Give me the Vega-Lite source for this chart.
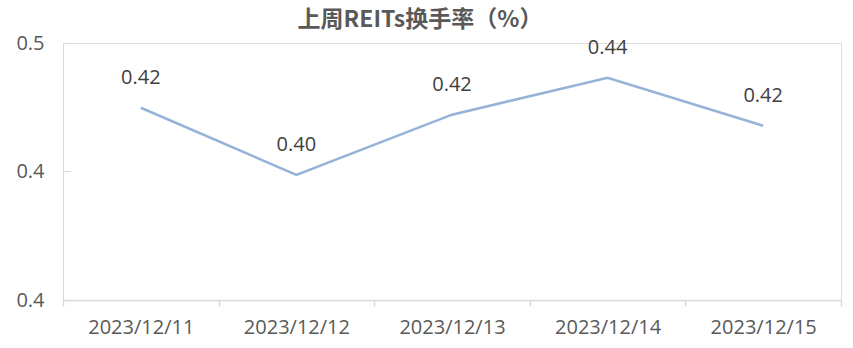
{
  "$schema": "https://vega.github.io/schema/vega-lite/v6.json",
  "autosize": "none",
  "width": 778,
  "height": 257,
  "padding": {"left": 63, "top": 43, "right": 12, "bottom": 48},
  "background": "#ffffff",
  "title": {
    "text": "上周REITs换手率（%）",
    "font": "Noto Sans CJK SC",
    "fontSize": 23,
    "fontWeight": "bold",
    "color": "#595959",
    "anchor": "middle",
    "frame": "group",
    "dx": -32,
    "offset": 1
  },
  "data": {
    "values": [
      {"date": "2023/12/11", "rate": 0.4248},
      {"date": "2023/12/12", "rate": 0.3987},
      {"date": "2023/12/13", "rate": 0.4221},
      {"date": "2023/12/14", "rate": 0.4365},
      {"date": "2023/12/15", "rate": 0.4178}
    ]
  },
  "encoding": {
    "x": {
      "field": "date",
      "type": "ordinal",
      "sort": null,
      "scale": {"paddingInner": 0, "paddingOuter": 0},
      "axis": {
        "title": null,
        "labelAngle": 0,
        "labelFont": "Open Sans",
        "labelFontSize": 20,
        "labelColor": "#595959",
        "labelPadding": 11,
        "domainColor": "#d9d9d9",
        "domainWidth": 1.5,
        "tickColor": "#d9d9d9",
        "tickWidth": 1.5,
        "tickSize": 6,
        "tickBand": "extent",
        "grid": false
      }
    },
    "y": {
      "field": "rate",
      "type": "quantitative",
      "scale": {"domain": [0.35, 0.45], "nice": false, "zero": false},
      "axis": {
        "title": null,
        "values": [0.35, 0.4, 0.45],
        "labelExpr": "datum.value > 0.44 ? '0.5' : '0.4'",
        "labelFont": "Open Sans",
        "labelFontSize": 20,
        "labelColor": "#595959",
        "labelPadding": 26,
        "domainColor": "#d9d9d9",
        "domainWidth": 1,
        "ticks": true,
        "tickSize": -7,
        "tickColor": "#d9d9d9",
        "grid": false
      }
    }
  },
  "layer": [
    {
      "mark": {"type": "line", "color": "#95b3d7", "strokeWidth": 2.5}
    },
    {
      "mark": {
        "type": "text",
        "font": "Open Sans",
        "fontSize": 20,
        "color": "#404040",
        "dy": -30
      },
      "encoding": {
        "text": {"field": "rate", "type": "quantitative", "format": ".2f"}
      }
    }
  ]
}
